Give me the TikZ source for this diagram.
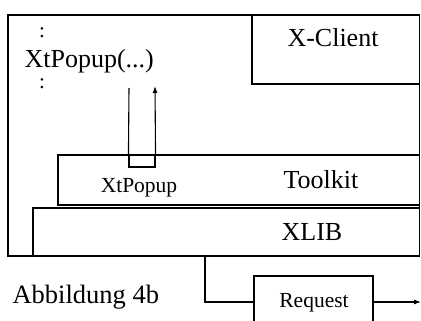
\documentclass[tikz,border=0pt]{standalone}
\usepackage{fontspec}
\setmainfont{Liberation Serif}
\usetikzlibrary{arrows.meta}

\begin{document}
\begin{tikzpicture}[x=1pt, y=-1pt, line width=1.1pt,
    box/.style={draw, rectangle, inner sep=0pt},
    big/.style={font=\fontsize{26}{30}\selectfont, inner sep=0pt},
    small/.style={font=\fontsize{21.5}{25}\selectfont, inner sep=0pt},
    dots/.style={font=\fontsize{21}{25}\selectfont, inner sep=0pt},
    arr/.style={-{Latex[length=7pt, width=5pt]}}]
    \useasboundingbox (0,0) rectangle (421,321);
    \clip (0,0) rectangle (421,321);
    % client process with its layers
    \node[box, minimum width=411.5pt, minimum height=241pt] (proc) at (213.75,135.5) {};
    \node[box, minimum width=167.5pt, minimum height=69pt] (client) at (335.75,49.5) {};
    \node[box, minimum width=361.5pt, minimum height=50pt] (toolkit) at (238.75,180) {};
    \node[box, minimum width=386.5pt, minimum height=48pt] (xlib) at (226.25,232) {};
    \node[box, minimum width=26pt, minimum height=12pt] (knob) at (142,161) {};
    \node[box, minimum width=119pt, minimum height=52pt] (req) at (313.5,302) {};
    % labels
    \node[big, anchor=base] (clientlbl) at (333,47) {X-Client};
    \node[big, anchor=base west] (call) at (24,68) {XtPopup(...)};
    \node[dots] (dotsup) at (42,33) {:};
    \node[dots] (dotsdown) at (42,84) {:};
    \node[small, anchor=base] (knoblbl) at (139,193) {XtPopup};
    \node[big, anchor=base] (toolkitlbl) at (321,189) {Toolkit};
    \node[big, anchor=base] (xliblbl) at (312,240) {XLIB};
    \node[small, anchor=base] (reqlbl) at (314,307) {Request};
    \node[font=\fontsize{26.5}{30}\selectfont, inner sep=0pt, anchor=base west] (caption) at (12,303) {Abbildung 4b};
    % call and return
    \coordinate (down) at (129,88);
    \coordinate (back) at (155,86);
    \coordinate (tap) at (205,256);
    \coordinate (exit) at (421,302);
    \draw (down) -- (knob.north west);
    \draw[arr] (knob.north east) -- (back);
    \draw (tap) |- (req.west);
    \draw[arr] (req.east) -- (exit);
\end{tikzpicture}
\end{document}
